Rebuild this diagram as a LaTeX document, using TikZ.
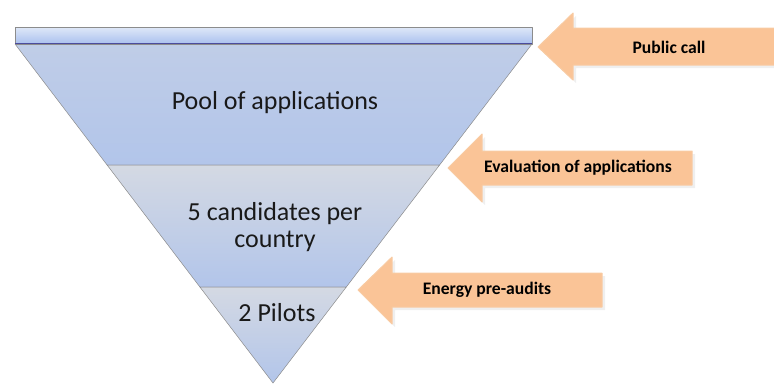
\documentclass[tikz,border=0pt]{standalone}
\usepackage{fontspec}
\setmainfont{Carlito}
\definecolor{barTop}{HTML}{DFE8F8}
\definecolor{barBot}{HTML}{A9C0EE}
\definecolor{bandTop}{HTML}{D4D9E3}
\definecolor{bandBot}{HTML}{B2C5EA}
\definecolor{tagFill}{HTML}{FAC497}
\definecolor{tagEdge}{HTML}{F8CBA3}
\begin{document}
\begin{tikzpicture}[x=1pt, y=-1pt, line join=round,
	band/.style={top color=bandTop, bottom color=bandBot, draw=black!45, line width=0.5pt},
	tag/.style={fill=tagFill, draw=tagEdge, line width=1pt},
	tagshadow/.style={fill=black!12, opacity=0.5},
	bigtext/.style={font=\fontsize{26}{27.5}\selectfont, text=black!90, align=center},
	tagtext/.style={font=\fontsize{17.6}{20}\selectfont\bfseries, text=black}]
	\useasboundingbox (0,0) rectangle (774,384);
	% funnel
	\draw[band, top color=bandTop!40!bandBot] (15,44)--(532,44)--(439.6,165)--(107.1,165)--cycle;
	\draw[band] (107.1,165)--(439.6,165)--(346.3,287)--(199.9,287)--cycle;
	\draw[band] (199.9,287)--(346.3,287)--(273,383)--cycle;
	\draw[top color=barTop, bottom color=barBot, draw=black!45, line width=0.5pt] (15,27) rectangle (532,44);
	\draw[blue!45!black!70, line width=0.8pt] (15,43.5)--(532,43.5);
	\node[bigtext] (pool) at (275,103) {Pool of applications};
	\node[bigtext] (cand) at (275,227) {5 candidates per\\country};
	\node[bigtext] (pilots) at (277,313) {2 Pilots};
	% arrows
	\fill[tagshadow] (776,31)--(576,31)--(576,16)--(541,50)--(576,83)--(576,68)--(776,68)--cycle;
	\draw[tag] (776,28)--(573,28)--(573,13)--(538,47)--(573,80)--(573,65)--(776,65);
	\fill[tagshadow] (695,154)--(485,154)--(485,137)--(451,171)--(485,205)--(485,188)--(695,188)--cycle;
	\draw[tag] (692,151)--(482,151)--(482,134)--(448,168)--(482,202)--(482,185)--(692,185)--cycle;
	\fill[tagshadow] (605,276)--(395,276)--(395,260)--(361,293)--(395,327)--(395,310)--(605,310)--cycle;
	\draw[tag] (602,273)--(392,273)--(392,257)--(358,290)--(392,324)--(392,307)--(602,307)--cycle;
	\node[tagtext] (call) at (669,47) {Public call};
	\node[tagtext] (eval) at (578,168) {Evaluation of applications};
	\node[tagtext] (audit) at (487,290) {Energy pre-audits};
\end{tikzpicture}
\end{document}
